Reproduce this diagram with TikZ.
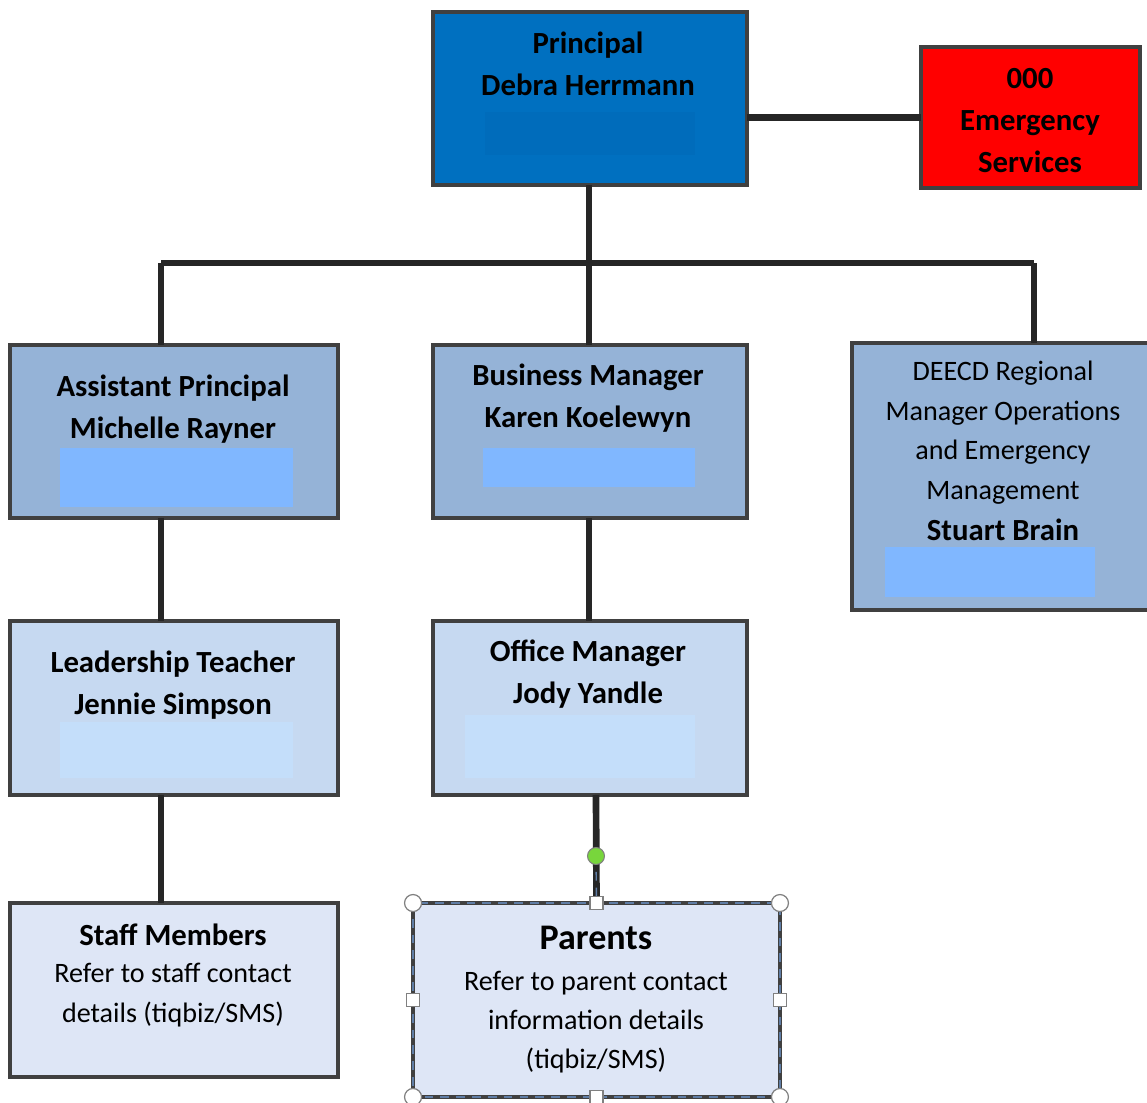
\documentclass[tikz,border=0pt]{standalone}
\usepackage{fontspec}
\setmainfont{Carlito}
\usepackage{tikz}

\definecolor{princblue}{RGB}{0,112,192}
\definecolor{princinner}{RGB}{0,108,187}
\definecolor{midblue}{RGB}{149,179,215}
\definecolor{paleblue}{RGB}{198,217,241}
\definecolor{palest}{RGB}{222,230,246}
\definecolor{brightblue}{RGB}{128,183,255}
\definecolor{paleinner}{RGB}{196,222,250}
\definecolor{emred}{RGB}{255,0,0}
\definecolor{boxline}{RGB}{64,64,64}
\definecolor{linkline}{RGB}{38,38,38}
\definecolor{rotgreen}{RGB}{120,214,60}
\definecolor{selframe}{RGB}{95,125,165}

\tikzset{
  box/.style={draw=boxline, line width=2.4pt, outer sep=0pt, inner sep=0pt},
  link/.style={draw=linkline, line width=3.8pt},
  head/.style={font=\bfseries\fontsize{17.5}{23.8}\selectfont, align=center, text=black},
  body/.style={font=\fontsize{16}{22.5}\selectfont, align=center, text=black},
  handle/.style={draw=gray, fill=white, line width=0.7pt},
}

\begin{document}
\begin{tikzpicture}[x=0.02cm, y=-0.02cm]
    \useasboundingbox (0,0) rectangle (1147,1103);

    % Boxes
    \node[box, fill=princblue, minimum width=6.28cm, minimum height=3.46cm] (principal) at (590,98.5) {};
    \node[box, fill=emred, minimum width=4.38cm, minimum height=2.82cm] (emergency) at (1030.5,117.5) {};
    \node[box, fill=midblue, minimum width=6.56cm, minimum height=3.46cm] (ap) at (174,431.5) {};
    \node[box, fill=midblue, minimum width=6.28cm, minimum height=3.46cm] (bm) at (590,431.5) {};
    \node[box, fill=midblue, minimum width=5.96cm, minimum height=5.34cm] (deecd) at (1001,476.5) {};
    \node[box, fill=paleblue, minimum width=6.56cm, minimum height=3.48cm] (lt) at (174,708) {};
    \node[box, fill=paleblue, minimum width=6.28cm, minimum height=3.48cm] (om) at (590,708) {};
    \node[box, fill=palest, minimum width=6.56cm, minimum height=3.48cm] (staff) at (174,990) {};
    \node[box, fill=palest, minimum width=7.34cm, minimum height=3.88cm] (parents) at (596.5,1000) {};

    % Blank contact fields
    \fill[princinner] (485,112) rectangle (695,155);
    \fill[brightblue] (60,448) rectangle (293,507);
    \fill[brightblue] (483,448) rectangle (695,487);
    \fill[brightblue] (885,547) rectangle (1095,597);
    \fill[paleinner] (60,722) rectangle (293,778);
    \fill[paleinner] (465,715) rectangle (695,778);

    % Texts
    \node[head] (principaltxt) at (588,64) {Principal\\Debra Herrmann};
    \node[head] (emergencytxt) at (1030,120.5) {000\\Emergency\\Services};
    \node[head] (aptxt) at (173,409) {Assistant Principal\\Michelle Rayner};
    \node[head] (bmtxt) at (588,398) {Business Manager\\Karen Koelewyn};
    \node[body] (deecdtxt) at (1003,432.5) {DEECD Regional\\Manager Operations\\and Emergency\\Management};
    \node[head] (deecdname) at (1003,530) {Stuart Brain};
    \node[head] (lttxt) at (173,685) {Leadership Teacher\\Jennie Simpson};
    \node[head] (omtxt) at (588,674.5) {Office Manager\\Jody Yandle};
    \node[head] (stafftxt) at (173,935) {Staff Members};
    \node[body] (staffinfo) at (173,995) {Refer to staff contact\\details (tiqbiz/SMS)};
    \node[head, font=\bfseries\fontsize{20.5}{24}\selectfont] (parentstxt) at (596,938) {Parents};
    \node[body, font=\fontsize{16}{22}\selectfont] (parentsinfo) at (596,1022) {Refer to parent contact\\information details\\(tiqbiz/SMS)};

    % Connectors
    \coordinate (bus) at (589,263);
    \coordinate (busl) at (161,263);
    \coordinate (busr) at (1034,263);
    \coordinate (dot) at (596,856);
    \draw[link] (principal.east |- emergency) -- (emergency.west);
    \draw[link] (principal.south -| bus) -- (bus);
    \draw[link] (busl) -- (busr);
    \draw[link] (busl) -- (busl |- ap.north);
    \draw[link] (bus) -- (bus |- bm.north);
    \draw[link] (busr) -- (busr |- deecd.north);
    \draw[link] (busl |- ap.south) -- (busl |- lt.north);
    \draw[link] (bus |- bm.south) -- (bus |- om.north);
    \draw[link] (busl |- lt.south) -- (busl |- staff.north);
    \draw[link] (dot |- om.south) -- (parents.north);

    % Selection frame round Parents
    \draw[selframe, line width=1pt, dash pattern=on 5pt off 4pt] (parents.north west) rectangle (parents.south east);
    \draw[selframe, line width=0.8pt, dash pattern=on 5pt off 4pt] (dot) -- (parents.north);
    \foreach \c in {north west, north east, south west, south east}
        \draw[handle] (parents.\c) circle[radius=0.17cm];
    \foreach \m in {north, south, east, west}
        \node[handle, minimum size=0.26cm, inner sep=0pt] (handle-\m) at (parents.\m) {};
    \node[circle, draw=gray, fill=rotgreen, minimum size=0.34cm, inner sep=0pt, line width=0.6pt] (rotate) at (dot) {};
\end{tikzpicture}
\end{document}
